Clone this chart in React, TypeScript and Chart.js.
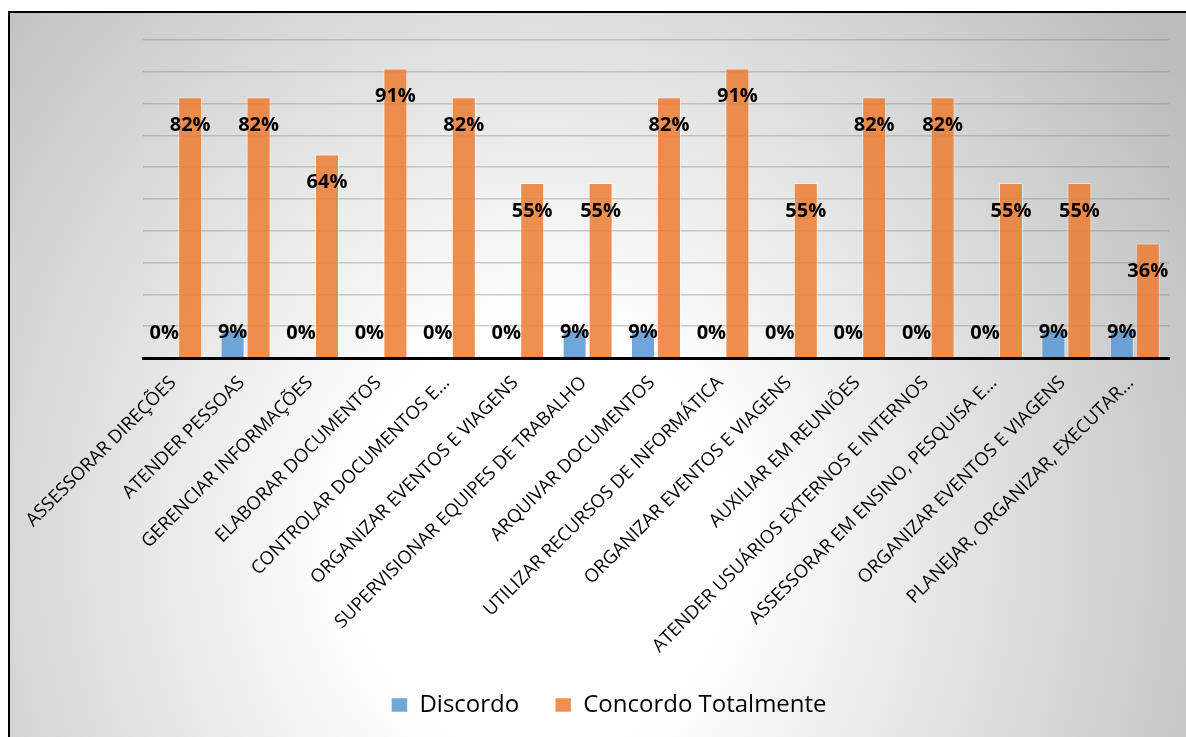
import React, { useEffect, useRef } from 'react';
import { Chart, registerables } from 'chart.js';

Chart.register(...registerables);

const categories: string[] = [
  'ASSESSORAR DIREÇÕES',
  'ATENDER PESSOAS',
  'GERENCIAR INFORMAÇÕES',
  'ELABORAR DOCUMENTOS',
  'CONTROLAR DOCUMENTOS E...',
  'ORGANIZAR EVENTOS E VIAGENS',
  'SUPERVISIONAR EQUIPES DE TRABALHO',
  'ARQUIVAR DOCUMENTOS',
  'UTILIZAR RECURSOS DE INFORMÁTICA',
  'ORGANIZAR EVENTOS E VIAGENS',
  'AUXILIAR EM REUNIÕES',
  'ATENDER USUÁRIOS EXTERNOS E INTERNOS',
  'ASSESSORAR EM ENSINO, PESQUISA E...',
  'ORGANIZAR EVENTOS E VIAGENS',
  'PLANEJAR, ORGANIZAR, EXECUTAR...',
];

const discordo: number[] = [0, 9, 0, 0, 0, 0, 9, 9, 0, 0, 0, 0, 0, 9, 9];
const concordoTotalmente: number[] = [82, 82, 64, 91, 82, 55, 55, 82, 91, 55, 82, 82, 55, 55, 36];

const seriesNames: string[] = ['Discordo', 'Concordo Totalmente'];
const yMin = 0;
const yMax = 100;
const yStep = 10;

const valueLabels = {
  id: 'valueLabels',
  afterDatasetsDraw(chart: any) {
    const ctx = chart.ctx;
    ctx.save();
    ctx.font = '700 20px "Open Sans"';
    ctx.fillStyle = '#000';
    ctx.textAlign = 'center';
    ctx.textBaseline = 'middle';
    chart.data.datasets.forEach((ds: any, di: number) => {
      const meta = chart.getDatasetMeta(di);
      meta.data.forEach((el: any, i: number) => {
        const v = ds.data[i] as number;
        const y = di === 0 ? el.base - 25 : el.y + 28;
        ctx.fillText(`${v}%`, el.x, y);
      });
    });
    ctx.restore();
  },
};

const legendShift = {
  id: 'legendShift',
  afterLayout(chart: any) {
    const lg = chart.legend;
    if (lg) {
      lg.left -= 47;
      lg.right -= 47;
    }
  },
};

export default function App() {
  const ref = useRef<HTMLCanvasElement>(null);

  useEffect(() => {
    const chart = new Chart(ref.current as HTMLCanvasElement, {
      type: 'bar',
      data: {
        labels: categories,
        datasets: [
          {
            label: seriesNames[0],
            data: discordo,
            backgroundColor: 'rgba(91,155,213,0.88)',
            borderColor: 'rgba(255,255,255,0.5)',
            borderWidth: 1,
            categoryPercentage: 0.76,
            barPercentage: 0.923,
          },
          {
            label: seriesNames[1],
            data: concordoTotalmente,
            backgroundColor: 'rgba(237,125,49,0.85)',
            borderColor: 'rgba(255,255,255,0.5)',
            borderWidth: 1,
            categoryPercentage: 0.76,
            barPercentage: 0.923,
          },
        ],
      },
      options: {
        responsive: false,
        animation: false,
        devicePixelRatio: 1,
        layout: { padding: { left: 143, right: 17, top: 40, bottom: 10 } },
        scales: {
          x: {
            grid: { display: false, drawTicks: false },
            border: { display: true, color: '#000', width: 3 },
            ticks: {
              autoSkip: false,
              minRotation: 45,
              maxRotation: 45,
              color: '#000',
              font: { family: 'Open Sans', size: 18.5 },
              padding: 14,
              labelOffset: -4,
            },
            afterFit: (scale: any) => {
              scale.height = 299;
            },
          },
          y: {
            min: yMin,
            max: yMax,
            ticks: { display: false, stepSize: yStep },
            grid: { color: 'rgba(128,128,128,0.38)', lineWidth: 1.5, drawTicks: false },
            border: { display: false },
          },
        },
        plugins: {
          legend: {
            position: 'bottom',
            labels: {
              color: '#000',
              font: { family: 'Open Sans', size: 24 },
              boxWidth: 16,
              boxHeight: 14,
              padding: 36,
            },
          },
          tooltip: { enabled: false },
        },
      },
      plugins: [valueLabels, legendShift],
    });
    return () => chart.destroy();
  }, []);

  return (
    <div
      style={{
        position: 'fixed',
        left: 0,
        top: 0,
        width: 1186,
        height: 737,
        overflow: 'hidden',
        background: '#ffffff',
      }}
    >
      <div
        style={{
          position: 'absolute',
          left: 8,
          top: 11,
          width: 1200,
          height: 740,
          boxSizing: 'border-box',
          border: '2px solid #000',
          background:
            'radial-gradient(ellipse 760px 850px at 530px 527px, #ffffff 0%, #ffffff 25%, #bcbcbc 100%)',
        }}
      />
      <canvas
        ref={ref}
        width={1186}
        height={737}
        style={{ position: 'absolute', left: 0, top: 0, width: 1186, height: 737 }}
      />
    </div>
  );
}
